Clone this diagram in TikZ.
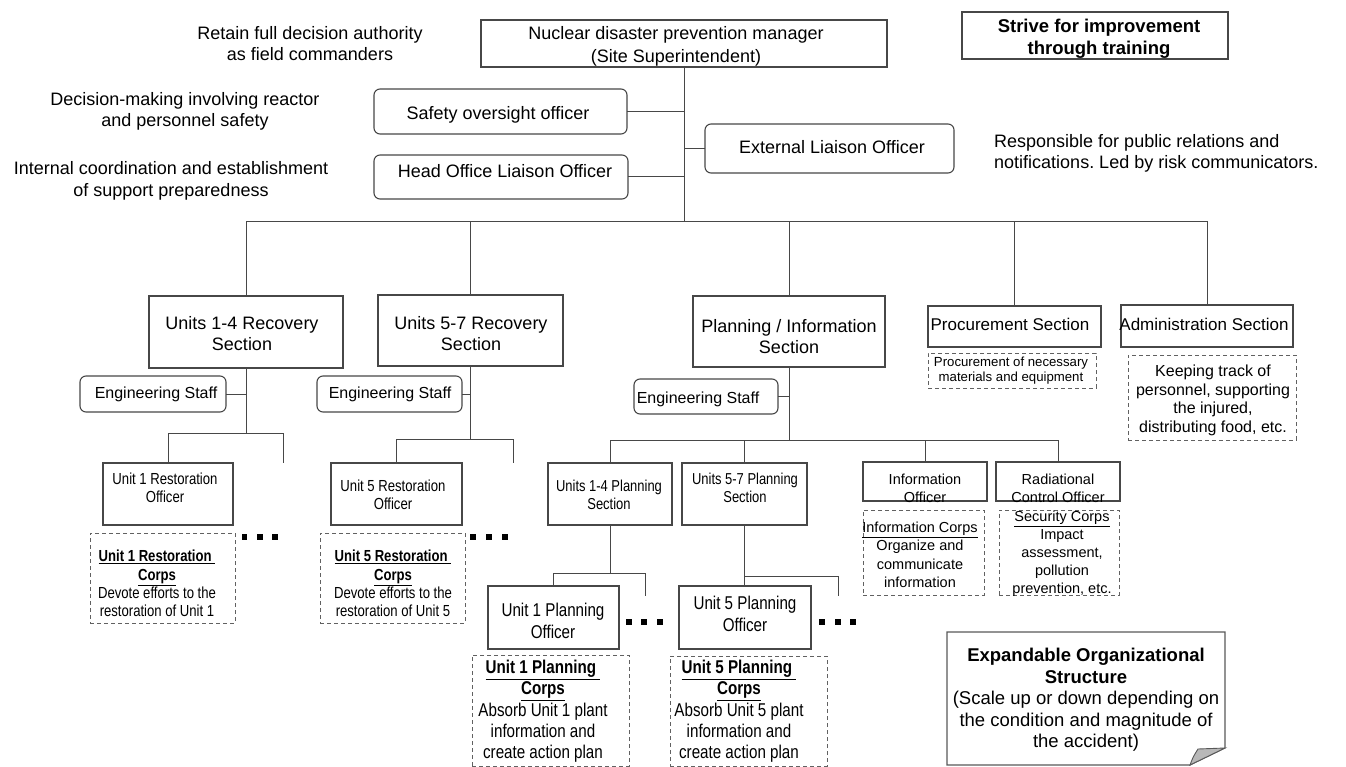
\documentclass[tikz,border=0pt]{standalone}
\usepackage{fontspec}
\setmainfont{Liberation Sans}
\newfontfamily\narrowsans[FakeStretch=0.82]{Liberation Sans}
\newcommand\setfs[2]{\fontsize{#1}{#2}\selectfont}
% box from corner (x1,y1) to corner (x2,y2): \bx{style}{name}{x1}{y1}{x2}{y2}
\newcommand\bx[6]{\node[#1,minimum width={#5-#3},minimum height={#6-#4}] (#2) at ({(#3+#5)/2},{(#4+#6)/2}) {};}
\frenchspacing
\begin{document}
\begin{tikzpicture}[x=1pt,y=-1pt,
  ln/.style={draw=black!72,line width=1pt},
  solidbox/.style={draw=black!72,line width=1.1pt,inner sep=0pt,outer sep=0pt},
  roundbox/.style={solidbox,rounded corners=6pt},
  dashbox/.style={draw=black!62,line width=1pt,dash pattern=on 4pt off 3pt,inner sep=0pt,outer sep=0pt},
  txt/.style={inner sep=0pt,align=center,text=black},
  big/.style={txt,font=\setfs{18}{21.5}},
  narrowsm/.style={txt,font=\narrowsans\setfs{16}{18.3}},
  narrowbig/.style={txt,font=\narrowsans\setfs{18.5}{21.3}},
  dotsq/.style={fill=black,minimum size=5.5pt,inner sep=0pt,outer sep=0pt}
]
\useasboundingbox (0,0) rectangle (1346,767);

% ---------- top level ----------
\bx{solidbox}{N}{481}{20}{887}{67}
\node[big,font=\setfs{18}{22.5}] (Nt) at (676,46.5) {Nuclear disaster prevention manager\\(Site Superintendent)};
\bx{solidbox}{S}{962}{12}{1228}{59}
\node[txt,font=\bfseries\setfs{18.5}{22}] (St) at (1099,39) {Strive for improvement\\through training};

\node[big] (a1) at (310,43.5) {Retain full decision authority\\as field commanders};
\node[big] (a2) at (185,111.5) {Decision-making involving reactor\\and personnel safety};
\node[big] (a3) at (171,181) {Internal coordination and establishment\\of support preparedness};
\node[big,anchor=west,align=left] (a4) at (994,153.5) {Responsible for public relations and\\notifications. Led by risk communicators.};

\bx{roundbox}{Saf}{374}{89}{627}{134}
\node[big] (Saft) at (498,115) {Safety oversight officer};
\bx{roundbox}{Hof}{374}{155}{628}{199}
\node[big] (Hoft) at (505,171) {Head Office Liaison Officer};
\bx{roundbox}{Ext}{705}{124}{954}{173}
\node[big] (Extt) at (832,147) {External Liaison Officer};

\coordinate (busL) at (245.5,222);
\draw[ln] (N.south) -- (N.south |- busL);
\draw[ln] (Saf.east) -- (Saf.east -| N.south);
\draw[ln] (Hof.east) -- (Hof.east -| N.south);
\draw[ln] (Ext.west) -- (Ext.west -| N.south);

% ---------- sections ----------
\bx{solidbox}{U14}{149}{296}{343}{368}
\node[big,font=\setfs{18}{21}] (U14t) at (242,334) {Units 1-4 Recovery\\Section};
\bx{solidbox}{U57}{378}{295}{563}{366}
\node[big,font=\setfs{18}{21}] (U57t) at (471,334) {Units 5-7 Recovery\\Section};
\bx{solidbox}{PI}{693}{296}{885}{367}
\node[big,font=\setfs{18}{21}] (PIt) at (789,336.5) {Planning / Information\\Section};
\bx{solidbox}{Proc}{928}{306}{1101}{347}
\node[txt,font=\setfs{17}{20}] (Proct) at (1010,324) {Procurement Section};
\bx{solidbox}{Adm}{1121}{305}{1293}{347}
\node[txt,font=\setfs{17}{20}] (Admt) at (1204,324) {Administration Section};

\draw[ln] (U14.north) -- (U14.north |- busL) -- (Adm.north |- busL) -- (Adm.north);
\foreach \b in {U57,PI,Proc} \draw[ln] (\b.north) -- (\b.north |- busL);

\bx{dashbox}{ProcD}{928}{353}{1096}{388}
\node[txt,font=\setfs{13.2}{14.5}] (ProcDt) at (1011,370.5) {Procurement of necessary\\materials and equipment};
\bx{dashbox}{AdmD}{1128}{355}{1296}{440}
\node[txt,font=\setfs{16}{18.5}] (AdmDt) at (1213,400.5) {Keeping track of\\personnel, supporting\\the injured,\\distributing food, etc.};

% ---------- engineering staff ----------
\bx{roundbox}{E1}{80}{376}{226}{412}
\node[txt,font=\setfs{16}{19}] (E1t) at (156,394.5) {Engineering Staff};
\bx{roundbox}{E2}{317}{376}{462}{412}
\node[txt,font=\setfs{16}{19}] (E2t) at (390,394.5) {Engineering Staff};
\bx{roundbox}{E3}{634}{379}{778}{414}
\node[txt,font=\setfs{16}{19}] (E3t) at (698,399) {Engineering Staff};
\draw[ln] (E1.east) -- (E1.east -| U14.south);
\draw[ln] (E2.east) -- (E2.east -| U57.south);
\draw[ln] (E3.east) -- (E3.east -| PI.south);

% ---------- restoration officers ----------
\bx{solidbox}{R1}{103}{463}{233}{525}
\node[narrowsm,font=\narrowsans\setfs{16}{18}] (R1t) at (165,488) {Unit 1 Restoration\\Officer};
\bx{solidbox}{R5}{331}{463}{462}{525}
\node[narrowsm,font=\narrowsans\setfs{16}{18}] (R5t) at (393,495) {Unit 5 Restoration\\Officer};

\coordinate (h1) at (0,433); \coordinate (f1) at (283,463);
\draw[ln] (U14.south) -- (U14.south |- h1);
\draw[ln] (R1.north) -- (R1.north |- h1) -- (f1 |- h1) -- (f1);
\coordinate (h2) at (0,439); \coordinate (f2) at (513,463);
\draw[ln] (U57.south) -- (U57.south |- h2);
\draw[ln] (R5.north) -- (R5.north |- h2) -- (f2 |- h2) -- (f2);

\bx{dashbox}{C1}{90}{533}{235}{623}
\node[narrowsm] (C1t) at (157,583.5) {\textbf{\underline{Unit 1 Restoration\ }}\\\textbf{\underline{Corps}}\\Devote efforts to the\\restoration of Unit 1};
\bx{dashbox}{C5}{320}{533}{465}{623}
\node[narrowsm] (C5t) at (393,583.5) {\textbf{\underline{Unit 5 Restoration\ }}\\\textbf{\underline{Corps}}\\Devote efforts to the\\restoration of Unit 5};

\node[dotsq] (d1a) at (244.5,537) {};
\node[dotsq] (d1b) at (260,537) {};
\node[dotsq] (d1c) at (275,537) {};
\node[dotsq] (d2a) at (473,537) {};
\node[dotsq] (d2b) at (489,537) {};
\node[dotsq] (d2c) at (505,537) {};

% ---------- planning / information ----------
\bx{solidbox}{P14}{548}{463}{672}{525}
\node[narrowsm,font=\narrowsans\setfs{15.8}{18}] (P14t) at (609,495) {Units 1-4 Planning\\Section};
\bx{solidbox}{P57}{682}{463}{807}{525}
\node[narrowsm,font=\narrowsans\setfs{15.8}{18}] (P57t) at (745,488) {Units 5-7 Planning\\Section};
\bx{solidbox}{Inf}{863}{462}{987}{501}
\node[txt,font=\setfs{14.5}{18}] (Inft) at (925,488) {Information\\Officer};
\bx{solidbox}{Rad}{996}{462}{1120}{501}
\node[txt,font=\setfs{14.5}{18}] (Radt) at (1058,488) {Radiational\\Control Officer};

\coordinate (h3) at (0,440);
\draw[ln] (PI.south) -- (PI.south |- h3);
\draw[ln] (P14.north) -- (P14.north |- h3) -- (Rad.north |- h3) -- (Rad.north);
\draw[ln] (P57.north) -- (P57.north |- h3);
\draw[ln] (Inf.north) -- (Inf.north |- h3);

\bx{dashbox}{InfC}{863}{510}{984}{595}
\node[txt,font=\setfs{14.5}{18.5}] (InfCt) at (920,555) {\underline{Information Corps}\\Organize and\\communicate\\information};
\bx{dashbox}{RadC}{999}{510}{1119}{595}
\node[txt,font=\setfs{14.5}{17.9}] (RadCt) at (1062,554) {\underline{Security Corps}\\Impact\\assessment,\\pollution\\prevention, etc.};

% ---------- planning officers ----------
\bx{solidbox}{O1}{488}{586}{619}{649}
\node[narrowbig,font=\narrowsans\setfs{18.5}{22}] (O1t) at (553,621) {Unit 1 Planning\\Officer};
\bx{solidbox}{O5}{679}{586}{811}{649}
\node[narrowbig,font=\narrowsans\setfs{18.5}{22}] (O5t) at (745,613.5) {Unit 5 Planning\\Officer};

\coordinate (h4) at (0,573); \coordinate (f4) at (645,596);
\draw[ln] (P14.south) -- (P14.south |- h4);
\draw[ln] (O1.north) -- (O1.north |- h4) -- (f4 |- h4) -- (f4);
\coordinate (h5) at (0,576); \coordinate (f5) at (838,596);
\draw[ln] (P57.south) -- (P57.south |- O5.north);
\draw[ln] (P57.south |- h5) -- (f5 |- h5) -- (f5);

\node[dotsq] (d3a) at (629,622) {};
\node[dotsq] (d3b) at (644,622) {};
\node[dotsq] (d3c) at (660,622) {};
\node[dotsq] (d4a) at (822,622) {};
\node[dotsq] (d4b) at (838,622) {};
\node[dotsq] (d4c) at (853,622) {};

\bx{dashbox}{OC1}{472}{655}{629}{766}
\node[narrowbig] (OC1t) at (543,711.5) {\textbf{\underline{Unit 1 Planning\ }}\\\textbf{\underline{Corps}}\\Absorb Unit 1 plant\\information and\\create action plan};
\bx{dashbox}{OC5}{670}{656}{827}{766}
\node[narrowbig] (OC5t) at (739,711.5) {\textbf{\underline{Unit 5 Planning\ }}\\\textbf{\underline{Corps}}\\Absorb Unit 5 plant\\information and\\create action plan};

% ---------- note with folded corner ----------
\draw[draw=black!65,line width=1.1pt,fill=white] (947,632) -- (1225,632) -- (1225,748) -- (1190,765) -- (947,765) -- cycle;
\draw[draw=black!65,line width=0.9pt,fill=black!28] (1190,765) .. controls (1193,757) .. (1198,749) -- (1225,748) -- cycle;
\node[txt,font=\setfs{18.5}{21.5}] (notet) at (1086,700) {\textbf{Expandable Organizational}\\\textbf{Structure}\\(Scale up or down depending on\\the condition and magnitude of\\the accident)};
\end{tikzpicture}
\end{document}
